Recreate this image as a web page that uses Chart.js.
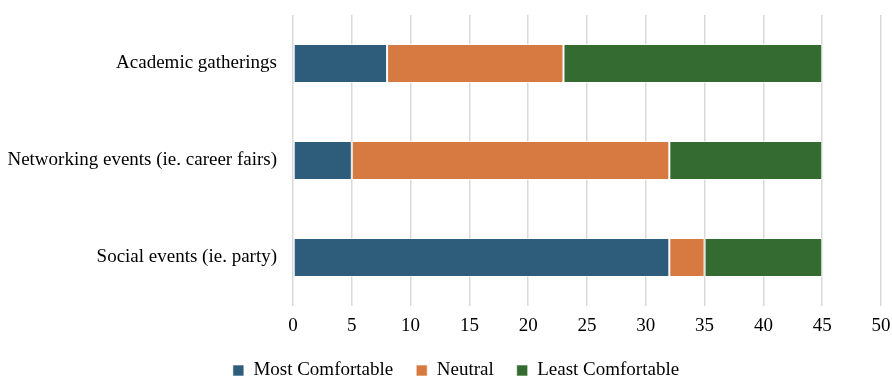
<!DOCTYPE html>
<html>
<head>
<meta charset="utf-8">
<script src="https://cdn.jsdelivr.net/npm/chart.js@4/dist/chart.umd.min.js"></script>
<style>
  html, body { margin: 0; padding: 0; background: #ffffff; }
  #wrap { width: 892px; height: 377px; position: relative; }
</style>
</head>
<body>
<div id="wrap"><canvas id="chart"></canvas></div>
<script>
// Event types surveyed
const categories = [
  'Academic gatherings',
  'Networking events (ie. career fairs)',
  'Social events (ie. party)'
];

// Responses per comfort level
const mostComfortable  = [8, 5, 32];
const neutral          = [15, 27, 3];
const leastComfortable = [22, 13, 10];

const seriesNames = ['Most Comfortable', 'Neutral', 'Least Comfortable'];
const seriesColors = ['#2e5d7c', '#d77a41', '#346b30'];

const serif = "'Liberation Serif', 'Times New Roman', serif";

// Legend block: fixed height, row nudged slightly to the right
const legendTweak = {
  id: 'legendTweak',
  beforeInit(chart) {
    const lg = chart.legend;
    const fit = lg.fit;
    lg.fit = function () {
      fit.call(this);
      this.height = 39;
    };
    const draw = lg.draw;
    lg.draw = function () {
      const ctx = this.ctx;
      ctx.save();
      ctx.translate(10, 0);
      draw.call(this);
      ctx.restore();
    };
  }
};

new Chart(document.getElementById('chart'), {
  type: 'bar',
  data: {
    labels: categories,
    datasets: [mostComfortable, neutral, leastComfortable].map((vals, i) => ({
      label: seriesNames[i],
      data: vals,
      backgroundColor: seriesColors[i],
      borderColor: 'rgba(255,255,255,0.6)',
      borderWidth: 1,
      borderSkipped: false,
      barPercentage: 0.8,
      categoryPercentage: 0.5
    }))
  },
  plugins: [legendTweak],
  options: {
    indexAxis: 'y',
    responsive: true,
    maintainAspectRatio: false,
    animation: false,
    layout: { padding: { left: 0, right: 0, top: 15, bottom: 0 } },
    plugins: {
      tooltip: { enabled: false },
      legend: {
        position: 'bottom',
        labels: {
          boxWidth: 11,
          boxHeight: 11,
          padding: 23,
          color: '#000',
          font: { family: serif, size: 19 }
        }
      }
    },
    scales: {
      x: {
        stacked: true,
        min: 0,
        max: 50,
        ticks: { stepSize: 5, color: '#000', padding: 9, font: { family: serif, size: 19 } },
        grid: { color: '#d9d9d9', lineWidth: 1.5, drawTicks: false },
        border: { display: false },
        afterFit: (s) => { s.height = 32; s.paddingRight = 11; s.paddingLeft = 0; s.paddingTop = 0; }
      },
      y: {
        stacked: true,
        ticks: { color: '#000', padding: 16, font: { family: serif, size: 19 } },
        grid: { display: false, drawTicks: false },
        border: { display: false },
        afterFit: (s) => { s.width = 293; s.paddingTop = 0; s.paddingBottom = 0; }
      }
    }
  }
});
</script>
</body>
</html>
